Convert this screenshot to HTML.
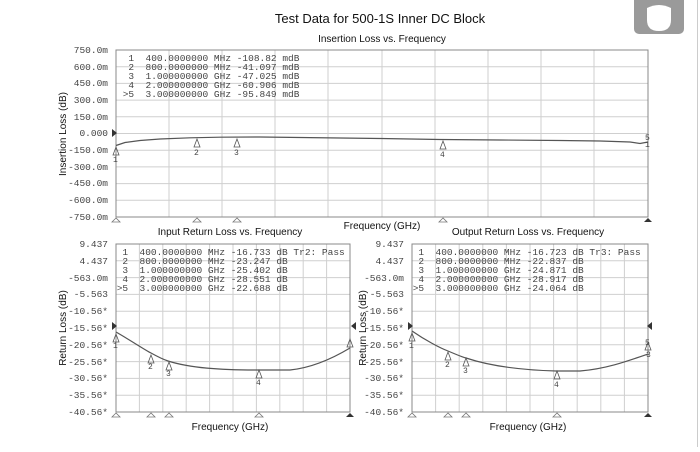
<!DOCTYPE html>
<html><head><meta charset="utf-8"><style>
body{margin:0;background:#fff;}
svg text{font-family:"Liberation Sans",sans-serif;}
svg .m, svg .m text{font-family:"Liberation Mono",monospace;font-size:9.5px;fill:#444;}
svg .m.s, svg .m.s text{font-size:8px;}
.t{font-size:10px;fill:#111;}
.g{stroke:#cfcfcf;stroke-width:1;}
</style></head><body>
<svg width="700" height="447" viewBox="0 0 700 447" xmlns="http://www.w3.org/2000/svg">
<rect x="634" y="-6" width="50" height="40" rx="5" fill="#9a9a9a"/>
<path d="M647,8 Q659,2 671,8 L671,20 Q671,31 659,31 Q647,31 647,20z" fill="#fff"/>
<line x1="697.5" y1="0" x2="697.5" y2="447" stroke="#ccc"/>
<text x="380" y="23" font-size="13" text-anchor="middle" fill="#111">Test Data for 500-1S Inner DC Block</text>
<text x="382" y="42" class="t" text-anchor="middle">Insertion Loss vs. Frequency</text>
<g class="g">
<line x1="169" y1="50" x2="169" y2="217"/><line x1="222" y1="50" x2="222" y2="217"/><line x1="275" y1="50" x2="275" y2="217"/><line x1="328" y1="50" x2="328" y2="217"/><line x1="382" y1="50" x2="382" y2="217"/><line x1="435" y1="50" x2="435" y2="217"/><line x1="488" y1="50" x2="488" y2="217"/><line x1="541" y1="50" x2="541" y2="217"/><line x1="594" y1="50" x2="594" y2="217"/>
<line x1="116" y1="66.7" x2="648" y2="66.7"/><line x1="116" y1="83.4" x2="648" y2="83.4"/><line x1="116" y1="100.1" x2="648" y2="100.1"/><line x1="116" y1="116.8" x2="648" y2="116.8"/><line x1="116" y1="133.5" x2="648" y2="133.5"/><line x1="116" y1="150.2" x2="648" y2="150.2"/><line x1="116" y1="166.9" x2="648" y2="166.9"/><line x1="116" y1="183.6" x2="648" y2="183.6"/><line x1="116" y1="200.3" x2="648" y2="200.3"/>
</g>
<rect x="116" y="50" width="532" height="167" fill="none" stroke="#888"/>
<g class="m" text-anchor="end">
<text x="108" y="53">750.0m</text><text x="108" y="70">600.0m</text><text x="108" y="86">450.0m</text><text x="108" y="103">300.0m</text><text x="108" y="120">150.0m</text><text x="108" y="136">0.000</text><text x="108" y="153">-150.0m</text><text x="108" y="170">-300.0m</text><text x="108" y="186">-450.0m</text><text x="108" y="203">-600.0m</text><text x="108" y="220">-750.0m</text>
</g>
<text class="t" transform="translate(66,134) rotate(-90)" text-anchor="middle">Insertion Loss (dB)</text>
<g class="m"><text x="117" y="61" xml:space="preserve">  1  400.0000000 MHz -108.82 mdB</text><text x="117" y="70" xml:space="preserve">  2  800.0000000 MHz -41.097 mdB</text><text x="117" y="79" xml:space="preserve">  3  1.000000000 GHz -47.025 mdB</text><text x="117" y="88" xml:space="preserve">  4  2.000000000 GHz -60.906 mdB</text><text x="117" y="97" xml:space="preserve"> &gt;5  3.000000000 GHz -95.849 mdB</text></g>
<path d="M116,145.5 L125,142.5 L140,140.5 L160,139 L190,137.8 L220,137.2 L260,137 L300,137.5 L340,138 L380,138.5 L440,139.5 L500,140 L560,140.5 L600,141 L630,142 L640,143.5 L648,142" fill="none" stroke="#555" stroke-width="1.2"/>
<path d="M112,129 l5,4 -5,4z" fill="#333"/>
<g fill="none" stroke="#555" stroke-width="0.8"><path d="M116,147 l-3,8 h6z"/><path d="M197,139 l-3,8 h6z"/><path d="M237,139 l-3,8 h6z"/><path d="M443,141 l-3,8 h6z"/></g>
<g class="m s"><text x="113" y="162">1</text><text x="194" y="155">2</text><text x="234" y="155">3</text><text x="440" y="157">4</text><text x="645" y="140">5</text><text x="645" y="147">1</text></g>
<g fill="#fff" stroke="#777" stroke-width="0.8"><path d="M116,218 l-4,4 h8z"/><path d="M197,218 l-4,4 h8z"/><path d="M237,218 l-4,4 h8z"/><path d="M443,218 l-4,4 h8z"/></g>
<path d="M648,218 l-4,4 h8z" fill="#333"/>
<text x="382" y="229" class="t" text-anchor="middle">Frequency (GHz)</text>

<text x="230" y="235" class="t" text-anchor="middle">Input Return Loss vs. Frequency</text>
<g class="g">
<line x1="139.4" y1="244" x2="139.4" y2="412"/><line x1="162.8" y1="244" x2="162.8" y2="412"/><line x1="186.2" y1="244" x2="186.2" y2="412"/><line x1="209.6" y1="244" x2="209.6" y2="412"/><line x1="233" y1="244" x2="233" y2="412"/><line x1="256.4" y1="244" x2="256.4" y2="412"/><line x1="279.8" y1="244" x2="279.8" y2="412"/><line x1="303.2" y1="244" x2="303.2" y2="412"/><line x1="326.6" y1="244" x2="326.6" y2="412"/>
<line x1="116" y1="260.8" x2="350" y2="260.8"/><line x1="116" y1="277.6" x2="350" y2="277.6"/><line x1="116" y1="294.4" x2="350" y2="294.4"/><line x1="116" y1="311.2" x2="350" y2="311.2"/><line x1="116" y1="328" x2="350" y2="328"/><line x1="116" y1="344.8" x2="350" y2="344.8"/><line x1="116" y1="361.6" x2="350" y2="361.6"/><line x1="116" y1="378.4" x2="350" y2="378.4"/><line x1="116" y1="395.2" x2="350" y2="395.2"/>
</g>
<rect x="116" y="244" width="234" height="168" fill="none" stroke="#888"/>
<g class="m" text-anchor="end">
<text x="108" y="247">9.437</text><text x="108" y="264">4.437</text><text x="108" y="281">-563.0m</text><text x="108" y="297">-5.563</text><text x="108" y="314">-10.56*</text><text x="108" y="331">-15.56*</text><text x="108" y="348">-20.56*</text><text x="108" y="365">-25.56*</text><text x="108" y="381">-30.56*</text><text x="108" y="398">-35.56*</text><text x="108" y="415">-40.56*</text>
</g>
<text class="t" transform="translate(66,328) rotate(-90)" text-anchor="middle">Return Loss (dB)</text>
<g class="m"><text x="111" y="255" xml:space="preserve">  1  400.0000000 MHz -16.733 dB Tr2: Pass</text><text x="111" y="264" xml:space="preserve">  2  800.0000000 MHz -23.247 dB</text><text x="111" y="273" xml:space="preserve">  3  1.000000000 GHz -25.402 dB</text><text x="111" y="282" xml:space="preserve">  4  2.000000000 GHz -28.551 dB</text><text x="111" y="291" xml:space="preserve"> &gt;5  3.000000000 GHz -22.688 dB</text></g>
<path d="M116,332 C130,340 145,350 151,353 C160,358 165,360 168,361 C190,368 220,370 258,370 L290,370 C310,368 330,360 350,348" fill="none" stroke="#555" stroke-width="1.2"/>
<path d="M112,322 l5,4 -5,4z" fill="#333"/>
<g fill="none" stroke="#555" stroke-width="0.8"><path d="M116,334 l-3,8 h6z"/><path d="M151,355 l-3,8 h6z"/><path d="M169,362 l-3,8 h6z"/><path d="M259,370 l-3,8 h6z"/><path d="M350,339 l-3,8 h6z"/></g>
<g class="m s"><text x="113" y="348">1</text><text x="148" y="369">2</text><text x="166" y="376">3</text><text x="256" y="385">4</text></g>
<g fill="#fff" stroke="#777" stroke-width="0.8"><path d="M116,413 l-4,4 h8z"/><path d="M151,413 l-4,4 h8z"/><path d="M169,413 l-4,4 h8z"/><path d="M259,413 l-4,4 h8z"/></g>
<path d="M350,413 l-4,4 h8z" fill="#333"/>
<text x="230" y="430" class="t" text-anchor="middle">Frequency (GHz)</text>

<text x="528" y="235" class="t" text-anchor="middle">Output Return Loss vs. Frequency</text>
<g class="g">
<line x1="435.6" y1="244" x2="435.6" y2="412"/><line x1="459.2" y1="244" x2="459.2" y2="412"/><line x1="482.8" y1="244" x2="482.8" y2="412"/><line x1="506.4" y1="244" x2="506.4" y2="412"/><line x1="530" y1="244" x2="530" y2="412"/><line x1="553.6" y1="244" x2="553.6" y2="412"/><line x1="577.2" y1="244" x2="577.2" y2="412"/><line x1="600.8" y1="244" x2="600.8" y2="412"/><line x1="624.4" y1="244" x2="624.4" y2="412"/>
<line x1="412" y1="260.8" x2="648" y2="260.8"/><line x1="412" y1="277.6" x2="648" y2="277.6"/><line x1="412" y1="294.4" x2="648" y2="294.4"/><line x1="412" y1="311.2" x2="648" y2="311.2"/><line x1="412" y1="328" x2="648" y2="328"/><line x1="412" y1="344.8" x2="648" y2="344.8"/><line x1="412" y1="361.6" x2="648" y2="361.6"/><line x1="412" y1="378.4" x2="648" y2="378.4"/><line x1="412" y1="395.2" x2="648" y2="395.2"/>
</g>
<rect x="412" y="244" width="236" height="168" fill="none" stroke="#888"/>
<g class="m" text-anchor="end">
<text x="404" y="247">9.437</text><text x="404" y="264">4.437</text><text x="404" y="281">-563.0m</text><text x="404" y="297">-5.563</text><text x="404" y="314">-10.56*</text><text x="404" y="331">-15.56*</text><text x="404" y="348">-20.56*</text><text x="404" y="365">-25.56*</text><text x="404" y="381">-30.56*</text><text x="404" y="398">-35.56*</text><text x="404" y="415">-40.56*</text>
</g>
<text class="t" transform="translate(366,328) rotate(-90)" text-anchor="middle">Return Loss (dB)</text>
<g class="m"><text x="407" y="255" xml:space="preserve">  1  400.0000000 MHz -16.723 dB Tr3: Pass</text><text x="407" y="264" xml:space="preserve">  2  800.0000000 MHz -22.837 dB</text><text x="407" y="273" xml:space="preserve">  3  1.000000000 GHz -24.871 dB</text><text x="407" y="282" xml:space="preserve">  4  2.000000000 GHz -28.917 dB</text><text x="407" y="291" xml:space="preserve"> &gt;5  3.000000000 GHz -24.064 dB</text></g>
<path d="M412,331 C425,340 440,348 448,351 C455,354 462,357 466,358 C490,366 520,370 556,371 L580,371 C605,369 625,362 648,354" fill="none" stroke="#555" stroke-width="1.2"/>
<path d="M408,322 l5,4 -5,4z" fill="#333"/><path d="M652,322 l-5,4 5,4z" fill="#333"/><path d="M356,322 l-5,4 5,4z" fill="#333"/>
<g fill="none" stroke="#555" stroke-width="0.8"><path d="M412,333 l-3,8 h6z"/><path d="M448,352 l-3,8 h6z"/><path d="M466,358 l-3,8 h6z"/><path d="M557,371 l-3,8 h6z"/><path d="M648,342 l-3,8 h6z"/></g>
<g class="m s"><text x="409" y="348">1</text><text x="445" y="367">2</text><text x="463" y="373">3</text><text x="554" y="387">4</text><text x="645" y="345">5</text><text x="646" y="357">3</text></g>
<g fill="#fff" stroke="#777" stroke-width="0.8"><path d="M412,413 l-4,4 h8z"/><path d="M448,413 l-4,4 h8z"/><path d="M466,413 l-4,4 h8z"/><path d="M557,413 l-4,4 h8z"/></g>
<path d="M648,413 l-4,4 h8z" fill="#333"/>
<text x="528" y="430" class="t" text-anchor="middle">Frequency (GHz)</text>
</svg>
</body></html>
